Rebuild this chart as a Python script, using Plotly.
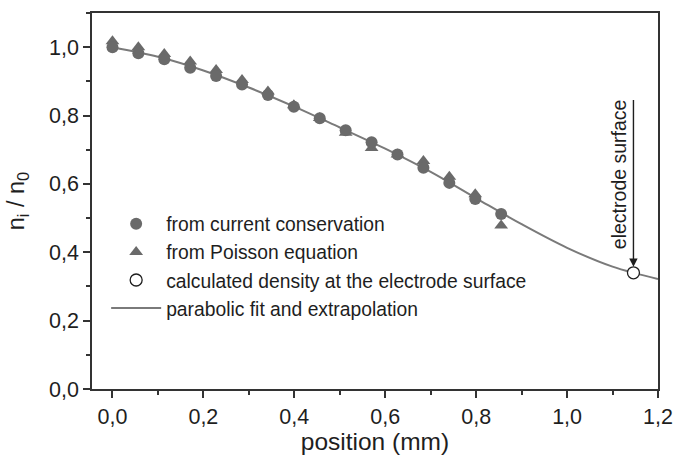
import plotly.graph_objects as go

# Ion density profile in the sheath, normalised to n0
position = [0.0, 0.057, 0.114, 0.171, 0.228, 0.285, 0.342, 0.399,
            0.456, 0.513, 0.570, 0.627, 0.684, 0.741, 0.798, 0.855]
n_current = [1.000, 0.982, 0.965, 0.940, 0.916, 0.891, 0.860, 0.826,
             0.792, 0.757, 0.722, 0.686, 0.647, 0.603, 0.556, 0.512]
n_poisson = [1.017, 1.000, 0.980, 0.958, 0.933, 0.904, 0.870, 0.830,
             0.793, 0.750, 0.705, 0.686, 0.667, 0.621, 0.570, 0.478]

# Fit curve and its extrapolation to the electrode
fit_x = [0.0, 0.1, 0.2, 0.3, 0.4, 0.5, 0.6, 0.7, 0.8, 0.9, 1.0, 1.1, 1.2]
fit_y = [1.000, 0.972, 0.932, 0.882, 0.826, 0.765, 0.703, 0.635,
         0.558, 0.482, 0.413, 0.358, 0.322]

electrode_x = [1.146]
electrode_y = [0.340]

x_ticks = [0.0, 0.2, 0.4, 0.6, 0.8, 1.0, 1.2]
y_ticks = [0.0, 0.2, 0.4, 0.6, 0.8, 1.0]

FONT = "Liberation Sans, Arial, sans-serif"
GREY = "#6a6a6a"
INK = "#1e1e1e"

fig = go.Figure()

fig.add_trace(go.Scatter(
    x=fit_x, y=fit_y, mode="lines", line_shape="spline",
    line=dict(color="#7a7a7a", width=2),
    name="parabolic fit and extrapolation", legendrank=4))

fig.add_trace(go.Scatter(
    x=position, y=n_poisson, mode="markers",
    marker=dict(symbol="triangle-up", size=12, color=GREY),
    name="from Poisson equation", legendrank=2))

fig.add_trace(go.Scatter(
    x=position, y=n_current, mode="markers",
    marker=dict(symbol="circle", size=12, color=GREY),
    name="from current conservation", legendrank=1))

fig.add_trace(go.Scatter(
    x=electrode_x, y=electrode_y, mode="markers",
    marker=dict(symbol="circle", size=12, color="white",
                line=dict(color=INK, width=1.3)),
    name="calculated density at the electrode surface", legendrank=3))

# Arrow pointing to the electrode surface
fig.add_annotation(
    x=electrode_x[0], y=electrode_y[0], xref="x", yref="y",
    ax=electrode_x[0], ay=0.85, axref="x", ayref="y",
    text="", showarrow=True, arrowhead=2, arrowsize=1.2,
    arrowwidth=1.4, arrowcolor=INK, standoff=6)
fig.add_annotation(
    x=electrode_x[0] - 0.03, y=0.628, xref="x", yref="y",
    text="electrode surface", textangle=-90, showarrow=False,
    font=dict(family=FONT, size=19.5, color=INK))

axis_common = dict(
    showline=True, linecolor="#333333", linewidth=1.5, mirror=True,
    ticks="outside", ticklen=7, tickwidth=1.5, tickcolor="#333333",
    showgrid=False, zeroline=False, tickformat=".1f", automargin=False,
    tickfont=dict(family=FONT, size=21.5, color=INK),
    minor=dict(ticks="outside", ticklen=4, tickwidth=1.5,
               tickcolor="#333333", showgrid=False),
)

fig.update_xaxes(
    range=[-0.045, 1.2], tickvals=x_ticks,
    minor_dtick=0.1, minor_tick0=0,
    title=dict(text="position (mm)", standoff=6,
               font=dict(family=FONT, size=24.5, color=INK)),
    **axis_common)
fig.update_yaxes(
    range=[0, 1.1], tickvals=y_ticks,
    minor_dtick=0.1, minor_tick0=0,
    title=dict(text="n<sub>i</sub> / n<sub>0</sub>", standoff=18,
               font=dict(family=FONT, size=23.5, color=INK)),
    **axis_common)

fig.update_layout(
    width=675, height=455,
    margin=dict(l=92, r=17, t=13, b=66),
    paper_bgcolor="white", plot_bgcolor="white",
    separators=", ",
    font=dict(family=FONT, color=INK),
    legend=dict(x=0.025, y=0.49, xanchor="left", yanchor="top",
                bgcolor="rgba(0,0,0,0)", tracegroupgap=0, itemwidth=50,
                font=dict(family=FONT, size=19.3, color=INK)),
)

fig.write_html("out.html")
